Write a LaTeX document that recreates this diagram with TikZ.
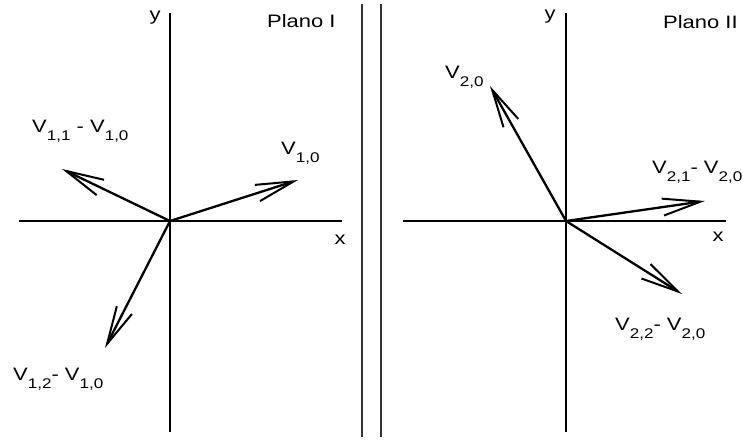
\documentclass[tikz,border=0pt]{standalone}
\usepackage{fontspec}
\setmainfont{Liberation Sans}
\usetikzlibrary{arrows.meta, math}

\newcommand{\wide}[1]{\scalebox{1.22}[1]{#1}}
\newcommand{\vsub}[1]{V\raisebox{-8pt}{\fontsize{14}{14}\selectfont #1}}

\tikzset{
axisline/.style={line width=1.4pt},
vecline/.style={line width=2.3pt, -{Straight Barb[length=38pt,width=17pt,line width=2pt]}},
lbl/.style={inner sep=0pt, font=\fontsize{18}{20}\selectfont},
divider/.style={line width=2pt, black!80},
}

\begin{document}
\begin{tikzpicture}[x=1pt,y=-1pt]
\tikzmath{
\oxa=170;
\oxb=566;
\oy=221;
}
\useasboundingbox (0,0) rectangle (743,439);

\coordinate (O1) at (\oxa,\oy);%origins
\coordinate (O2) at (\oxb,\oy);
\coordinate (T10) at (298,180);%tips of vectors
\coordinate (T11) at (62,169);
\coordinate (T12) at (105,348);
\coordinate (T20) at (490,86);
\coordinate (T21) at (705,201);
\coordinate (T22) at (682,294);

%dividing lines
\draw[divider] (362,4) -- (362,437);
\draw[divider] (381,4) -- (381,437);

%axes
\draw[axisline] (\oxa,13) -- (\oxa,432);
\draw[axisline] (19,\oy) -- (342,\oy);
\draw[axisline] (\oxb,13) -- (\oxb,432);
\draw[axisline] (403,\oy) -- (726,\oy);

\node[lbl] (ya) at (155,18) {\wide{y}};
\node[lbl] (xa) at (340,240) {\wide{x}};
\node[lbl] (yb) at (550,17) {\wide{y}};
\node[lbl] (xb) at (718,237) {\wide{x}};
\node[lbl, anchor=base west] (plano1) at (267,27) {\wide{Plano I}};
\node[lbl, anchor=base west] (plano2) at (663,28) {\wide{Plano II}};

%vectors
\draw[vecline] (O1) -- (T10);
\draw[vecline] (O1) -- (T11);
\draw[vecline] (O1) -- (T12);
\draw[vecline] (O2) -- (T20);
\draw[vecline] (O2) -- (T21);
\draw[vecline] (O2) -- (T22);

\node[lbl, anchor=base west] (v10) at (281,154) {\wide{\vsub{1,0}}};
\node[lbl, anchor=base west] (v11) at (32,132) {\wide{\vsub{1,1} - \vsub{1,0}}};
\node[lbl, anchor=base west] (v12) at (13,380) {\wide{\vsub{1,2}- \vsub{1,0}}};
\node[lbl, anchor=base west] (v20) at (445,78) {\wide{\vsub{2,0}}};
\node[lbl, anchor=base west] (v21) at (652,173) {\wide{\vsub{2,1}- \vsub{2,0}}};
\node[lbl, anchor=base west] (v22) at (615,330) {\wide{\vsub{2,2}- \vsub{2,0}}};
\end{tikzpicture}
\end{document}
